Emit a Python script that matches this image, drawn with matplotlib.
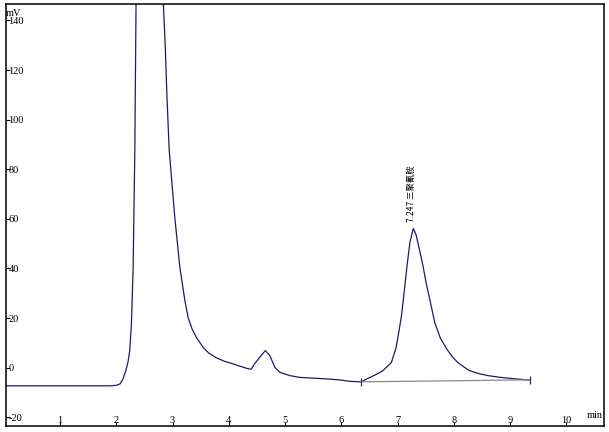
import matplotlib
matplotlib.use('Agg')
import matplotlib.pyplot as plt

# chromatogram trace (min, mV)
time_min = [0.03, 0.5, 1.0, 1.5, 1.89, 2.0, 2.07, 2.12, 2.17, 2.21, 2.24,
            2.27, 2.30, 2.33, 2.36, 2.45, 2.6, 2.75, 2.83, 2.87, 2.90,
            2.94, 3.04, 3.13, 3.22, 3.28, 3.35, 3.43, 3.55, 3.65, 3.78,
            3.92, 4.07, 4.2, 4.34, 4.40, 4.46, 4.55, 4.65, 4.73, 4.82,
            4.91, 5.09, 5.26, 5.5, 5.8, 6.0, 6.15, 6.35, 6.51, 6.63,
            6.74, 6.89, 6.97, 7.02, 7.07, 7.12, 7.17, 7.22, 7.28, 7.33,
            7.39, 7.45, 7.51, 7.57, 7.66, 7.76, 7.87, 7.97, 8.07, 8.18,
            8.28, 8.45, 8.61, 8.8, 9.0, 9.2, 9.35]
signal_mv = [-7.3, -7.3, -7.3, -7.3, -7.3, -7.1, -6.5, -4.5, -1.2, 2.5, 6.9,
             18, 40.5, 87.9, 170, 280, 320, 250, 150, 130, 110,
             88, 60.7, 40.5, 27, 20, 15.5, 12, 8, 5.8, 4,
             2.6, 1.6, 0.6, -0.4, -0.6, 1.6, 4.2, 6.9, 4.9, 0.1,
             -1.9, -3.2, -3.9, -4.2, -4.6, -5.0, -5.5, -5.7, -3.9, -2.6,
             -1.2, 2.1, 7.7, 14, 21, 31, 41.3, 50.5, 56.1, 53.5,
             47.5, 41.3, 34, 27.9, 18.3, 12, 7.7, 4.5, 2.1, 0.3,
             -1.2, -2.4, -3.2, -3.8, -4.3, -4.7, -5.0]

# integration baseline of the labelled peak
base_t = [6.35, 9.35]
base_v = [-5.7, -4.9]

peak_time = 7.247
peak_height = 56.1
peak_name = '三聚氰胺'

x_ticks = [1, 2, 3, 4, 5, 6, 7, 8, 9, 10]
y_ticks = [-20, 0, 20, 40, 60, 80, 100, 120, 140]

line_color = '#1c1c6b'
font_kw = dict(family='Liberation Serif', fontsize=7.5, color='black')

fig = plt.figure(figsize=(6.09, 4.32), dpi=100)
ax = fig.add_axes([5.5 / 609, 6 / 432, 598.5 / 609, 421.7 / 432])

ax.plot(time_min, signal_mv, color=line_color, lw=0.9)
ax.plot(base_t, base_v, color='#8a8a8a', lw=0.9)
ax.plot(base_t, base_v, ls='none', marker='|', markersize=6,
        markeredgewidth=0.9, color='#333355')

ax.set_xlim(0.031, 10.67)
ax.set_ylim(-23.5, 146.5)

for s in ax.spines.values():
    s.set_linewidth(1.1)
    s.set_color('black')

ax.set_xticks(x_ticks)
ax.set_yticks(y_ticks)
ax.tick_params(direction='in', length=3, width=0.8, labelbottom=False,
               labelleft=False)

# tick labels drawn inside the frame, like the instrument software does
for t in x_ticks:
    ax.annotate(str(t), xy=(t, 0), xycoords=('data', 'axes fraction'),
                xytext=(0, 2.4), textcoords='offset points',
                ha='center', va='baseline', **font_kw)
for v in y_ticks:
    ax.annotate(str(v), xy=(0, v), xycoords=('axes fraction', 'data'),
                xytext=(2.2, 0), textcoords='offset points',
                ha='left', va='center_baseline', **font_kw)

ax.text(0.001, 0.979, 'mV', transform=ax.transAxes, ha='left',
        va='center', **font_kw)
ax.text(0.984, 0.024, 'min', transform=ax.transAxes, ha='center',
        va='center', **font_kw)

ax.annotate(f'{peak_time:.3f} {peak_name}', xy=(peak_time, peak_height),
            xytext=(0, 4.5), textcoords='offset points', rotation=90,
            ha='center', va='bottom', fontsize=6,
            family=['Noto Sans CJK SC', 'DejaVu Sans'], color='black')

fig.savefig('out.png', dpi=100)
